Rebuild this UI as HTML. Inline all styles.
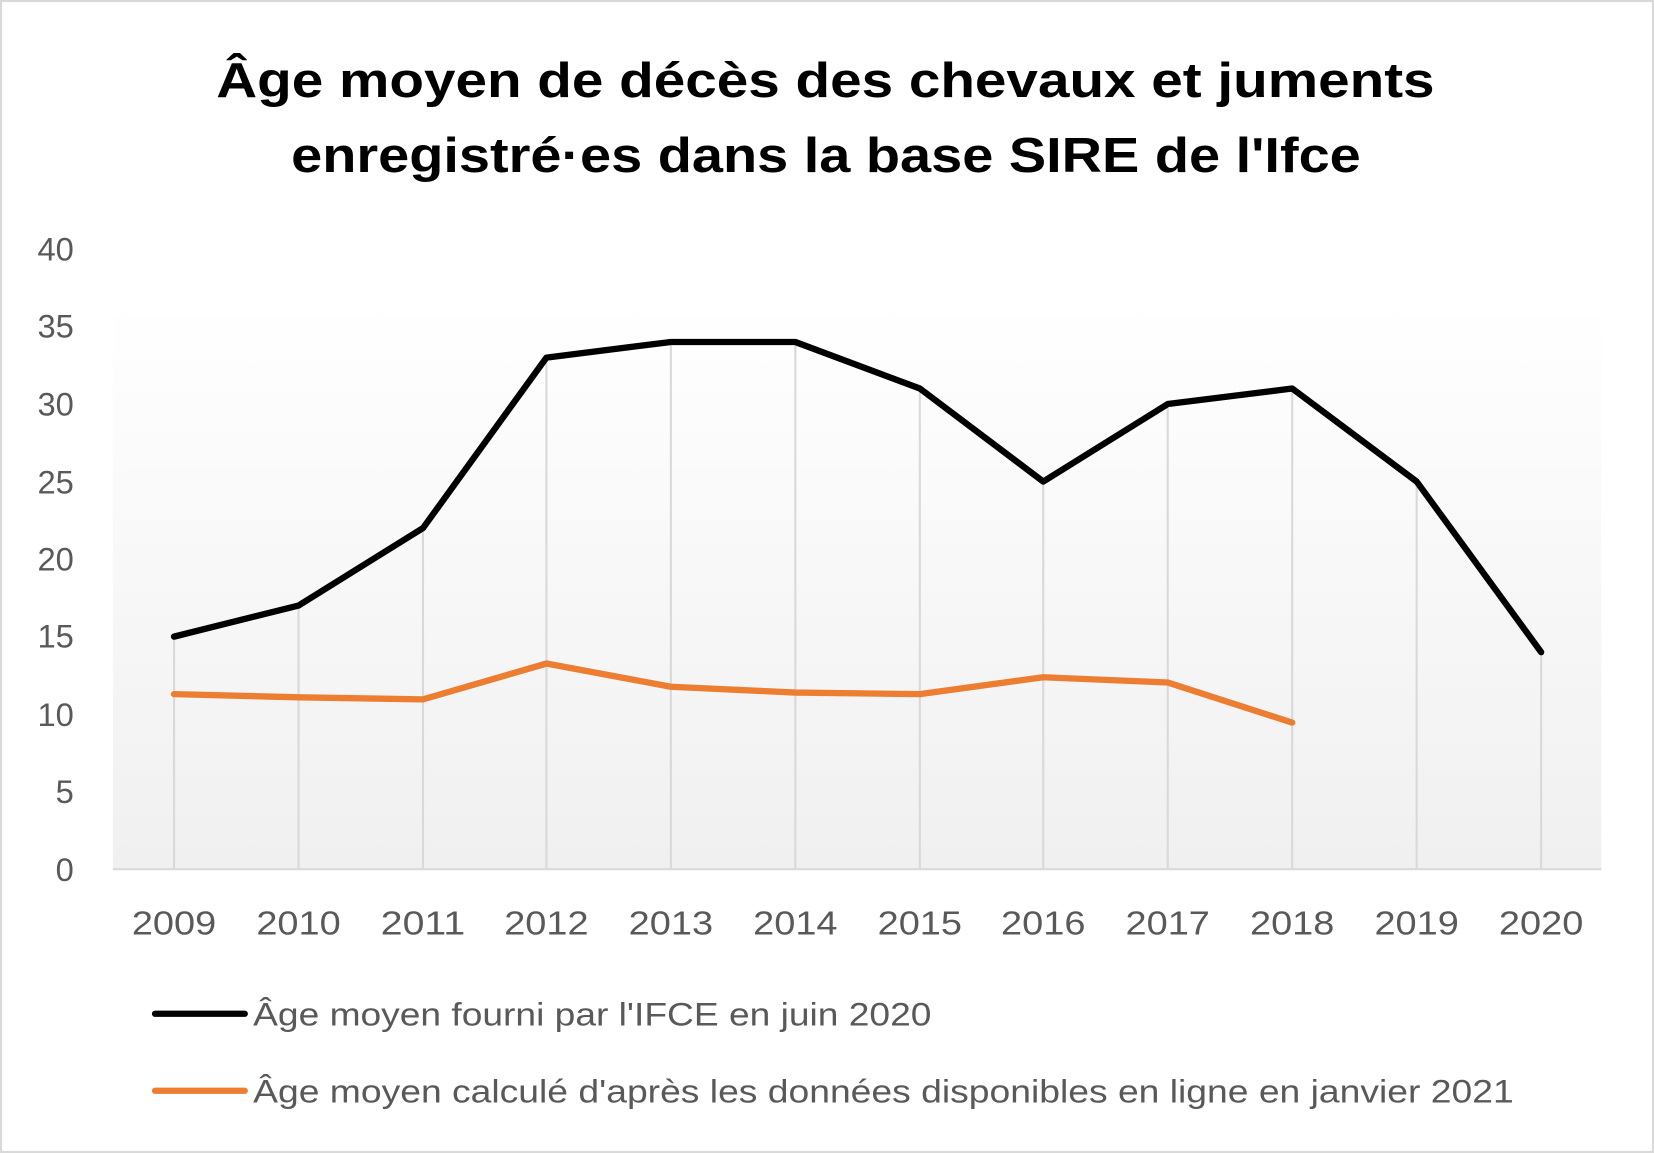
<!DOCTYPE html>
<html><head><meta charset="utf-8"><style>html,body{margin:0;padding:0;background:#fff}svg{display:block}</style></head>
<body>
<svg width="1654" height="1153" viewBox="0 0 1568 1093" preserveAspectRatio="none" xmlns="http://www.w3.org/2000/svg" font-family="'Liberation Sans', 'DejaVu Sans', sans-serif">
<defs><linearGradient id="g" x1="0" y1="0" x2="0" y2="1"><stop offset="0" stop-color="#fff"/><stop offset="1" stop-color="#f0f0f0"/></linearGradient></defs>
<rect x="1" y="1" width="1566" height="1091" fill="#fff" stroke="#d9d9d9" stroke-width="2"/>
<text x="205" y="92" textLength="1155" lengthAdjust="spacingAndGlyphs" font-size="47" font-weight="bold" fill="#000">Âge moyen de décès des chevaux et juments</text>
<text x="276" y="163" textLength="1014" lengthAdjust="spacingAndGlyphs" font-size="47" font-weight="bold" fill="#000">enregistré·es dans la base SIRE de l'Ifce</text>
<rect x="107" y="286" width="1411" height="538" fill="url(#g)"/>
<g stroke="#d9d9d9" stroke-width="2">
<line x1="165" y1="604" x2="165" y2="824"/><line x1="283" y1="574" x2="283" y2="824"/><line x1="401" y1="500" x2="401" y2="824"/><line x1="518" y1="339" x2="518" y2="824"/><line x1="636" y1="324" x2="636" y2="824"/><line x1="754" y1="324" x2="754" y2="824"/><line x1="872" y1="368" x2="872" y2="824"/><line x1="989" y1="456" x2="989" y2="824"/><line x1="1107" y1="383" x2="1107" y2="824"/><line x1="1225" y1="368" x2="1225" y2="824"/><line x1="1343" y1="456" x2="1343" y2="824"/><line x1="1461" y1="618" x2="1461" y2="824"/>
<line x1="107" y1="824" x2="1518" y2="824"/>
</g>
<g font-size="31" fill="#595959" text-anchor="end">
<text x="70" y="247">40</text><text x="70" y="320">35</text><text x="70" y="394">30</text><text x="70" y="468">25</text><text x="70" y="541">20</text><text x="70" y="614">15</text><text x="70" y="688">10</text><text x="70" y="761">5</text><text x="70" y="835">0</text>
</g>
<g font-size="32" fill="#595959" text-anchor="middle" lengthAdjust="spacingAndGlyphs">
<text x="165" y="886" textLength="80" lengthAdjust="spacingAndGlyphs">2009</text><text x="283" y="886" textLength="80" lengthAdjust="spacingAndGlyphs">2010</text><text x="401" y="886" textLength="80" lengthAdjust="spacingAndGlyphs">2011</text><text x="518" y="886" textLength="80" lengthAdjust="spacingAndGlyphs">2012</text><text x="636" y="886" textLength="80" lengthAdjust="spacingAndGlyphs">2013</text><text x="754" y="886" textLength="80" lengthAdjust="spacingAndGlyphs">2014</text><text x="872" y="886" textLength="80" lengthAdjust="spacingAndGlyphs">2015</text><text x="989" y="886" textLength="80" lengthAdjust="spacingAndGlyphs">2016</text><text x="1107" y="886" textLength="80" lengthAdjust="spacingAndGlyphs">2017</text><text x="1225" y="886" textLength="80" lengthAdjust="spacingAndGlyphs">2018</text><text x="1343" y="886" textLength="80" lengthAdjust="spacingAndGlyphs">2019</text><text x="1461" y="886" textLength="80" lengthAdjust="spacingAndGlyphs">2020</text>
</g>
<polyline fill="none" stroke="#000" stroke-width="6" stroke-linejoin="round" stroke-linecap="round" points="165,603.5 283,574 401,500.6 518,339 636,324.2 754,324.2 872,368.3 989,456.5 1107,383 1225,368.3 1343,456.5 1461,618.2"/>
<polyline fill="none" stroke="#ed7d31" stroke-width="6" stroke-linejoin="round" stroke-linecap="round" points="165,658 283,661 401,663 518,629 636,651 754,656.5 872,658 989,642 1107,647 1225,685"/>
<line x1="147" y1="961" x2="232" y2="961" stroke="#000" stroke-width="6" stroke-linecap="round"/>
<text x="240" y="972" textLength="643" lengthAdjust="spacingAndGlyphs" font-size="31" fill="#595959">Âge moyen fourni par l'IFCE en juin 2020</text>
<line x1="147" y1="1034" x2="232" y2="1034" stroke="#ed7d31" stroke-width="6" stroke-linecap="round"/>
<text x="240" y="1045" textLength="1195" lengthAdjust="spacingAndGlyphs" font-size="31" fill="#595959">Âge moyen calculé d'après les données disponibles en ligne en janvier 2021</text>
</svg>
</body></html>
